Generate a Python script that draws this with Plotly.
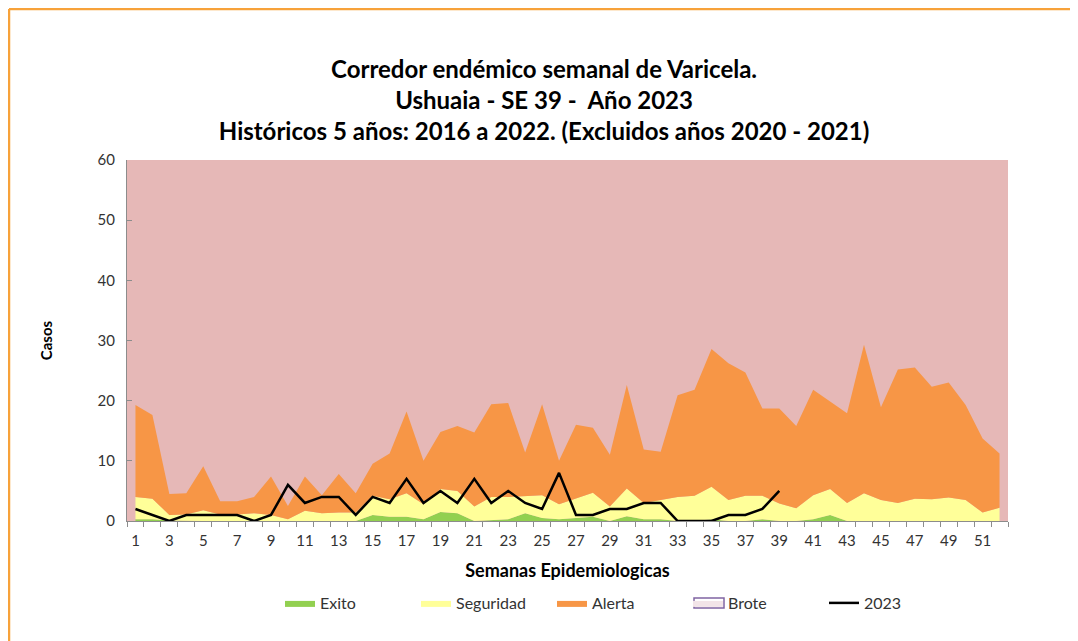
import plotly.graph_objects as go

# ── Data ──────────────────────────────────────────────
semanas = list(range(1, 53))
tick_semanas = list(range(1, 53, 2))

# upper limits of each zone (historic 2016-2022, excl. 2020-2021)
exito_top = [0.3, 0.3, 0.1, 0, 0, 0, 0, 0, 0, 0, 0, 0, 0, 0,
             1.0, 0.7, 0.7, 0.3, 1.5, 1.3, 0, 0.2, 0.3, 1.3, 0.5, 0.3,
             0.5, 0.7, 0, 0.8, 0.3, 0.3, 0, 0, 0.3, 0, 0, 0.3, 0, 0,
             0.3, 1.0, 0, 0, 0, 0, 0, 0, 0, 0, 0, 0]
seguridad_top = [4.0, 3.7, 1.0, 1.1, 1.8, 1.1, 1.1, 1.3, 1.0, 0.3, 1.7, 1.3, 1.4,
                 1.4, 4.2, 3.6, 4.6, 2.8, 5.3, 5.0, 2.4, 4.0, 4.0, 4.2, 4.3, 2.8,
                 3.8, 4.7, 2.4, 5.4, 3.0, 3.5, 4.0, 4.2, 5.7, 3.5, 4.2, 4.2, 2.9,
                 2.1, 4.3, 5.3, 3.0, 4.6, 3.5, 3.0, 3.7, 3.6, 3.9, 3.5, 1.4, 2.2]
alerta_top = [19.3, 17.6, 4.5, 4.6, 9.1, 3.3, 3.3, 4.0, 7.4, 2.5, 7.4, 4.3, 7.8,
              4.6, 9.5, 11.2, 18.2, 10.0, 14.8, 15.8, 14.7, 19.4, 19.6, 11.4, 19.4, 10.0,
              16.0, 15.5, 11.0, 22.6, 11.9, 11.5, 20.9, 21.8, 28.6, 26.2, 24.7, 18.7, 18.7,
              15.8, 21.8, 19.8, 17.9, 29.3, 18.9, 25.2, 25.5, 22.3, 23.0, 19.3, 13.7, 11.2]

semanas_2023 = list(range(1, 40))
casos_2023 = [2, 1, 0, 1, 1, 1, 1, 0, 1, 6, 3, 4, 4, 1, 4, 3, 7, 3, 5, 3,
              7, 3, 5, 3, 2, 8, 1, 1, 2, 2, 3, 3, 0, 0, 0, 1, 1, 2, 5]

GREEN  = '#92D050'
YELLOW = '#FFFF99'
ORANGE = '#F79646'
PINK   = '#E6B8B7'
PURPLE = '#8064A2'
LAVEN  = '#F2E4E8'
FRAME  = '#F7A23A'
TXT    = '#333333'
FONT   = 'Lato'

# page body adds 8px, so the figure is 8px smaller than the window
W, H = 1070, 633
L, T, R, B = 119, 152, 70, 120
PW, PH = W - L - R, H - T - B


def px(x):  # figure pixel -> paper x
    return (x - L) / PW


def py(y):  # figure pixel -> paper y
    return (H - B - y) / PH


# ── Figure ────────────────────────────────────────────
fig = go.Figure()
fig.add_trace(go.Scatter(x=semanas, y=exito_top, name='Exito', mode='lines',
                         line=dict(width=0), fill='tozeroy', fillcolor=GREEN))
fig.add_trace(go.Scatter(x=semanas, y=seguridad_top, name='Seguridad', mode='lines',
                         line=dict(width=0), fill='tonexty', fillcolor=YELLOW))
fig.add_trace(go.Scatter(x=semanas, y=alerta_top, name='Alerta', mode='lines',
                         line=dict(width=0), fill='tonexty', fillcolor=ORANGE))
# Brote = everything above Alerta (plot background)
fig.add_trace(go.Scatter(x=[None], y=[None], name='Brote', mode='lines',
                         line=dict(width=0), fill='toself', fillcolor=LAVEN))
fig.add_trace(go.Scatter(x=semanas_2023, y=casos_2023, name='2023', mode='lines',
                         line=dict(width=2.5, color='black')))

# frame around the chart
for x0, y0, x1, y1 in [(1, 1, 1066, 1), (1, 1, 1, 700), (1066, 1, 1066, 560)]:
    fig.add_shape(type='line', xref='paper', yref='paper',
                  x0=px(x0), y0=py(y0), x1=px(x1), y1=py(y1),
                  line=dict(color=FRAME, width=2.5))

# purple outline of the Brote legend swatch
fig.add_shape(type='rect', xref='paper', yref='paper',
              x0=px(686), y0=py(590), x1=px(716), y1=py(600),
              line=dict(color=PURPLE, width=1.5))

fig.update_layout(
    width=W, height=H,
    margin=dict(l=L, r=R, t=T, b=B),
    paper_bgcolor='white', plot_bgcolor=PINK,
    font=dict(family=FONT, size=15, color=TXT),
    title=dict(text='<b>Corredor endémico semanal de Varicela.<br>'
                    'Ushuaia - SE 39 -  Año 2023<br>'
                    'Históricos 5 años: 2016 a 2022. (Excluidos años 2020 - 2021)</b>',
               font=dict(size=24, color='black', family=FONT),
               x=0.501, xanchor='center', y=1 - 70 / H, yanchor='middle'),
    showlegend=True,
    legend=dict(orientation='h', x=px(272), xanchor='left', y=py(595), yanchor='middle',
                traceorder='normal',
                font=dict(size=16, color=TXT), entrywidth=91, entrywidthmode='pixels',
                bgcolor='rgba(0,0,0,0)'),
    xaxis=dict(range=[0.5, 52.5], tickmode='array', tickvals=tick_semanas,
               ticks='', ticklabelstandoff=6, showgrid=False, zeroline=False,
               showline=True, linecolor='#8C8C8C', linewidth=1,
               minor=dict(tickmode='linear', tick0=0.5, dtick=1, ticks='outside',
                          ticklen=5, tickcolor='#8C8C8C', showgrid=False),
               title=dict(text='<b>Semanas Epidemiologicas</b>', standoff=16,
                          font=dict(size=18, color='black'))),
    yaxis=dict(range=[0, 60], dtick=10, ticks='inside', ticklen=5, tickcolor='#8C8C8C',
               ticklabelstandoff=8, showgrid=False, zeroline=False,
               showline=True, linecolor='#8C8C8C', linewidth=1,
               title=dict(text='<b>Casos</b>', standoff=41,
                          font=dict(size=15, color='black'))),
)

fig.write_html("out.html")
